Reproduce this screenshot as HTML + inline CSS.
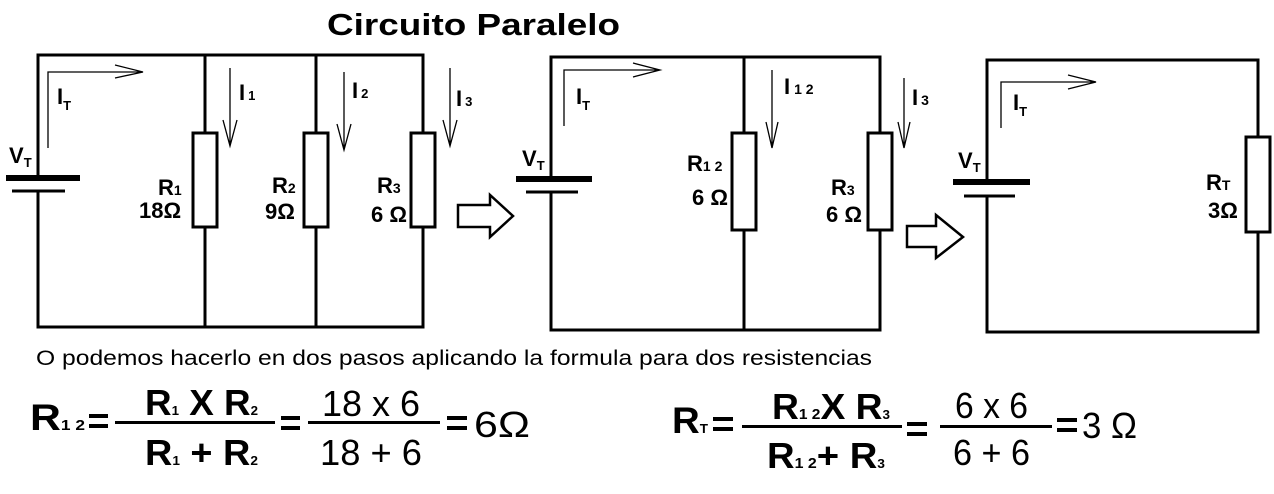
<!DOCTYPE html>
<html><head><meta charset="utf-8"><style>
html,body{margin:0;padding:0;background:#fff;}
svg{display:block;}
text{font-family:"Liberation Sans",Arial,sans-serif;fill:#000;}
.b{font-weight:bold;}
</style></head><body>
<svg width="1274" height="494" viewBox="0 0 1274 494" xmlns="http://www.w3.org/2000/svg">
<text x="327" y="35" class="b" font-size="31" textLength="293" lengthAdjust="spacingAndGlyphs">Circuito Paralelo</text>
<g fill="none" stroke="#000" stroke-width="3">
<path d="M38 178 V55 H423 V133 M423 227 V327 H38 V191"/>
<path d="M205 55 V133 M205 227 V327 M316 55 V133 M316 227 V327"/>
<rect x="193" y="133" width="24" height="94" fill="#fff"/>
<rect x="304" y="133" width="24" height="94" fill="#fff"/>
<rect x="411" y="133" width="24" height="94" fill="#fff"/>
<path d="M6 178 H80" stroke-width="6"/>
<path d="M12 191 H65"/>
<path d="M458 205 H490 V195 L513 216 L490 237 V227 H458 Z" stroke-width="2.5"/>
<path d="M551 178 V57 H880 V133 M880 230 V330 H551 V191"/>
<path d="M744 57 V133 M744 230 V330"/>
<rect x="732" y="133" width="24" height="97" fill="#fff"/>
<rect x="868" y="133" width="24" height="97" fill="#fff"/>
<path d="M516 179 H592" stroke-width="6"/>
<path d="M526 192 H578"/>
<path d="M907 226 H936 V215 L963 237 L936 258 V247 H907 Z" stroke-width="2.5"/>
<path d="M987 182 V60 H1258 V137 M1258 232 V332 H987 V196"/>
<rect x="1246" y="137" width="24" height="95" fill="#fff"/>
<path d="M953 182 H1030" stroke-width="6"/>
<path d="M964 196 H1015"/>
</g>
<g fill="none" stroke="#000" stroke-width="1.3">
<path d="M48 148 V72 H143 M115 65 L143 72 L115 78"/>
<path d="M230 68 V146 M223 120 L230 146 L237 120"/>
<path d="M344 72 V150 M337 124 L344 150 L351 124"/>
<path d="M450 68 V146 M443 120 L450 146 L457 120"/>
<path d="M564 126 V70 H660 M633 63 L660 70 L633 77"/>
<path d="M772 70 V148 M766 122 L772 148 L778 122"/>
<path d="M904 78 V148 M898 122 L904 148 L910 122"/>
<path d="M1001 128 V82 H1096 M1068 75 L1096 82 L1068 89"/>
</g>
<g class="b">
<text x="57" y="104" font-size="22">I<tspan font-size="13" dy="6">T</tspan></text>
<text x="239" y="100" font-size="22">I<tspan font-size="13" dx="3">1</tspan></text>
<text x="352" y="98" font-size="22">I<tspan font-size="13" dx="3">2</tspan></text>
<text x="456" y="106" font-size="22">I<tspan font-size="13" dx="3">3</tspan></text>
<text x="9" y="163" font-size="22">V<tspan font-size="13" dy="4">T</tspan></text>
<text x="158" y="195" font-size="22">R<tspan font-size="14">1</tspan></text>
<text x="139" y="218" font-size="22">18Ω</text>
<text x="272" y="193" font-size="22">R<tspan font-size="14">2</tspan></text>
<text x="265" y="219" font-size="22">9Ω</text>
<text x="377" y="193" font-size="22">R<tspan font-size="14">3</tspan></text>
<text x="371" y="222" font-size="22">6 Ω</text>
<text x="576" y="104" font-size="22">I<tspan font-size="13" dy="6">T</tspan></text>
<text x="522" y="166" font-size="22">V<tspan font-size="13" dy="4">T</tspan></text>
<text x="784" y="94" font-size="22">I<tspan font-size="14" dx="4">1 2</tspan></text>
<text x="912" y="105" font-size="22">I<tspan font-size="14" dx="3">3</tspan></text>
<text x="687" y="171" font-size="22">R<tspan font-size="14">1 2</tspan></text>
<text x="692" y="205" font-size="22">6 Ω</text>
<text x="831" y="195" font-size="22">R<tspan font-size="14">3</tspan></text>
<text x="826" y="222" font-size="22">6 Ω</text>
<text x="1013" y="110" font-size="22">I<tspan font-size="13" dy="6">T</tspan></text>
<text x="958" y="168" font-size="22">V<tspan font-size="13" dy="4">T</tspan></text>
<text x="1206" y="190" font-size="22">R<tspan font-size="14">T</tspan></text>
<text x="1208" y="218" font-size="22">3Ω</text>
</g>
<text x="36" y="365" font-size="21" textLength="836" lengthAdjust="spacingAndGlyphs">O podemos hacerlo en dos pasos aplicando la formula para dos resistencias</text>
<!-- formula 1 -->
<g class="b">
<text x="30" y="430" font-size="37" textLength="55" lengthAdjust="spacingAndGlyphs">R<tspan font-size="15">1 2</tspan></text>
<rect x="89" y="414" width="19" height="4"/><rect x="89" y="424" width="19" height="4"/>
<text x="145" y="415" font-size="36" textLength="113" lengthAdjust="spacingAndGlyphs">R<tspan font-size="13">1</tspan> X R<tspan font-size="13">2</tspan></text>
<rect x="115" y="421" width="160" height="3"/>
<text x="145" y="465" font-size="36" textLength="113" lengthAdjust="spacingAndGlyphs">R<tspan font-size="13">1</tspan> + R<tspan font-size="13">2</tspan></text>
<rect x="281" y="416" width="19" height="4"/><rect x="281" y="426" width="19" height="4"/>
<rect x="308" y="421" width="132" height="3"/>
<rect x="447" y="416" width="20" height="4"/><rect x="447" y="426" width="20" height="4"/>
</g>
<text x="322" y="416" font-size="36" textLength="98" lengthAdjust="spacingAndGlyphs">18 x 6</text>
<text x="320" y="465" font-size="36" textLength="102" lengthAdjust="spacingAndGlyphs">18 + 6</text>
<text x="474" y="437" font-size="36" textLength="56" lengthAdjust="spacingAndGlyphs">6Ω</text>
<!-- formula 2 -->
<g class="b">
<text x="672" y="433" font-size="37" textLength="36" lengthAdjust="spacingAndGlyphs">R<tspan font-size="13">T</tspan></text>
<rect x="713" y="417" width="20" height="4"/><rect x="713" y="427" width="20" height="4"/>
<text x="772" y="419" font-size="36" textLength="118" lengthAdjust="spacingAndGlyphs">R<tspan font-size="15">1 2</tspan>X R<tspan font-size="13">3</tspan></text>
<rect x="742" y="425" width="160" height="3"/>
<text x="767" y="468" font-size="36" textLength="118" lengthAdjust="spacingAndGlyphs">R<tspan font-size="15">1 2</tspan>+ R<tspan font-size="13">3</tspan></text>
<rect x="907" y="422" width="20" height="4"/><rect x="907" y="432" width="20" height="4"/>
<rect x="940" y="425" width="112" height="3"/>
<rect x="1057" y="418" width="20" height="4"/><rect x="1057" y="428" width="20" height="4"/>
</g>
<text x="955" y="418" font-size="36" textLength="73" lengthAdjust="spacingAndGlyphs">6 x 6</text>
<text x="953" y="465" font-size="36" textLength="77" lengthAdjust="spacingAndGlyphs">6 + 6</text>
<text x="1082" y="438" font-size="36" textLength="55" lengthAdjust="spacingAndGlyphs">3 Ω</text>
</svg>
</body></html>
